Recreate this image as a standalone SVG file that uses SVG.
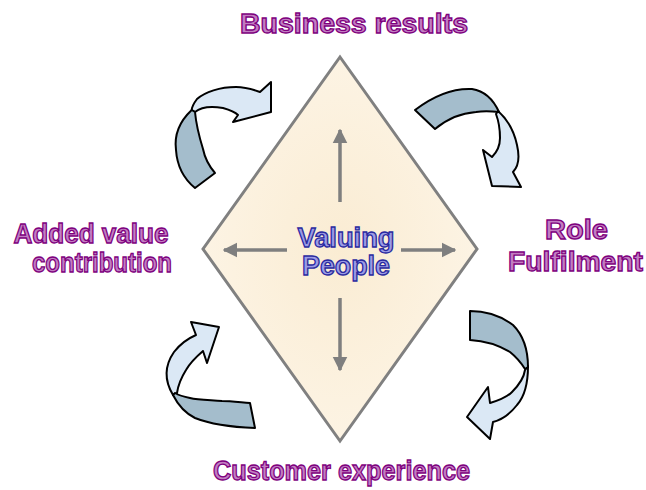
<svg xmlns="http://www.w3.org/2000/svg" width="646" height="490" viewBox="0 0 646 490">
  <defs>
    <radialGradient id="diamondFill" cx="50%" cy="50%" r="60%">
      <stop offset="0" stop-color="#faecd3"/>
      <stop offset="1" stop-color="#fdf5e7"/>
    </radialGradient>
    <marker id="grayHead" viewBox="0 0 10 10" refX="9" refY="5" markerWidth="4.2" markerHeight="4.8" orient="auto" markerUnits="strokeWidth">
      <path d="M0,0 L10,5 L0,10 Z" fill="#7f7f7f"/>
    </marker>
  </defs>
  <style>
    .label { font-family: "Liberation Sans", Arial, sans-serif; font-weight: bold; font-size: 27px; fill: #c27ec2; stroke: #7e007e; stroke-width: 1.3; }
    .center { font-family: "Liberation Sans", Arial, sans-serif; font-weight: bold; font-size: 27px; fill: #9c9ce6; stroke: #2a2aa0; stroke-width: 1.3; }
    .dark { fill: #a4bdcc; stroke: #000; stroke-width: 2; stroke-linejoin: round; }
    .light { fill: #dbe8f5; stroke: #000; stroke-width: 2; stroke-linejoin: round; }
    .axis { stroke: #7f7f7f; stroke-width: 3.5; fill: none; marker-end: url(#grayHead); }
  </style>

  <rect width="646" height="490" fill="#ffffff"/>

  <!-- central diamond -->
  <g id="diamond">
    <polygon points="340,57 477,249 340,441 203,249" fill="url(#diamondFill)" stroke="#808080" stroke-width="3"/>
  </g>

  <!-- four arrows spreading out from the centre -->
  <g id="connectors">
    <line class="axis" x1="340" y1="202" x2="340" y2="130"/>
    <line class="axis" x1="340" y1="298" x2="340" y2="370"/>
    <line class="axis" x1="287" y1="250" x2="224" y2="250"/>
    <line class="axis" x1="401" y1="250" x2="455" y2="250"/>
  </g>

  <g id="centre-label">
    <text class="center" x="346" y="247" text-anchor="middle" textLength="97" lengthAdjust="spacingAndGlyphs">Valuing</text>
    <text class="center" x="346" y="275" text-anchor="middle" textLength="88" lengthAdjust="spacingAndGlyphs">People</text>
  </g>

  <!-- curved arrows around the diamond -->
  <g id="arrow-top-left">
    <path class="light" d="M195,112 C201,107 211,106 223,108 C230,110 235,112 238,115 L233,122 L271,112 L271,82 L260,92 C252,89 245,87 236,87 C220,87 205,92 197,99 C194,103 192,106 191.7,110 Z"/>
    <path class="dark" d="M191.7,110 C180,121 174,135 176,150 C177,165 184,179 195,188 L215,173 C209,166 205,159 203,149 C199,136 196,123 195,112 Z"/>
  </g>

  <g id="arrow-top-right">
    <path class="light" d="M498,111 C507,119 514,131 517,145 C520,158 518,167 513,172 L521,187 L492,186 L483,150 L492,157 C498,151 500,145 500,138 C500,130 499,122 496,114 Z"/>
    <path class="dark" d="M415,110 C432,97 452,88 472,89 C485,91 494,101 499,112 C490,111 482,111 476,112 C462,113 447,119 435,129 Z"/>
  </g>

  <g id="arrow-bottom-left">
    <path class="light" d="M173,395 C164,380 165,365 174,352 C181,343 189,338 196,335 L191,322 L219,327 L207,363 L203,351 C196,357 190,363 186,370 C181,378 178,386 177,393 Z"/>
    <path class="dark" d="M173,395 C178,405 185,413 195,418 C210,424 228,427 255,428 L250,403 C238,402 230,401 222,401 C210,400 198,400 190,398 C185,397 180,396 175,393 Z"/>
  </g>

  <g id="arrow-bottom-right">
    <path class="light" d="M528,366 C528,380 526,395 517,405 C510,414 501,420 493,422 L490,439 L467,417 L488,387 L490,403 C500,400 507,397 512,392 C520,384 524,377 525,370 Z"/>
    <path class="dark" d="M470,311 C485,311 501,316 513,325 C523,335 528,350 528,367 L525,369 C520,361 515,356 510,352 C500,346 488,341 470,340 Z"/>
  </g>

  <!-- outer labels -->
  <g id="business-results">
    <text class="label" x="354" y="33" text-anchor="middle" font-size="28" textLength="228" lengthAdjust="spacingAndGlyphs">Business results</text>
  </g>
  <g id="role-fulfilment">
    <text class="label" x="576.5" y="239" text-anchor="middle" font-size="28" textLength="63" lengthAdjust="spacingAndGlyphs">Role</text>
    <text class="label" x="575.5" y="271" text-anchor="middle" font-size="28" textLength="135" lengthAdjust="spacingAndGlyphs">Fulfilment</text>
  </g>
  <g id="added-value">
    <text class="label" x="91" y="243" text-anchor="middle" textLength="155" lengthAdjust="spacingAndGlyphs">Added value</text>
    <text class="label" x="102" y="272" text-anchor="middle" textLength="140" lengthAdjust="spacingAndGlyphs">contribution</text>
  </g>
  <g id="customer-experience">
    <text class="label" x="341.5" y="480" text-anchor="middle" textLength="257" lengthAdjust="spacingAndGlyphs">Customer experience</text>
  </g>
</svg>
